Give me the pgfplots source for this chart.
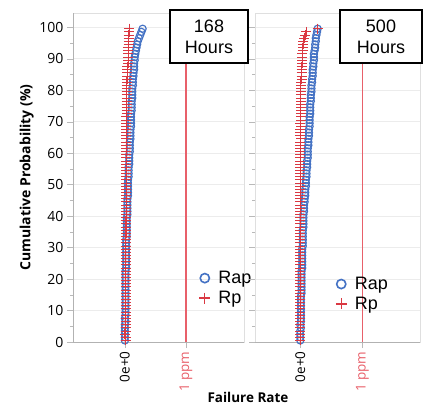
\documentclass[border=0pt]{standalone}
\usepackage{pgfplots}
\usepackage{pgfplotstable}
\pgfplotsset{compat=1.18}
\usepackage{fontspec}
\setmainfont{Open Sans}
\newfontfamily\arialfont{Liberation Sans}

\definecolor{rapblue}{RGB}{68,114,196}
\definecolor{rpred}{RGB}{218,56,66}
\definecolor{ppmred}{RGB}{232,96,106}

% p: cumulative probability (%); a1/r1: Rap/Rp after 168 h; a2/r2: Rap/Rp after 500 h (ppm)
\pgfplotstableread{
p    a1   r1   a2   r2
0.5  0.00 0.01 0.00 0.00
1.5  0.00 0.01 0.00 0.00
2.5  0.00 0.00 0.00 0.00
3.5  0.00 0.01 0.00 0.00
4.5  0.00 0.01 0.01 0.00
5.5  0.00 0.01 0.00 0.00
6.5  0.01 0.01 0.01 0.00
7.5  0.00 0.01 0.01 0.00
8.5  0.01 0.01 0.01 0.00
9.5  0.01 0.01 0.01 0.00
10.5 0.01 0.01 0.01 0.00
11.5 0.01 0.01 0.01 0.00
12.5 0.01 0.01 0.01 0.00
13.5 0.01 0.01 0.01 0.00
14.5 0.01 0.01 0.01 0.00
15.5 0.01 0.01 0.02 0.00
16.5 0.01 0.01 0.02 0.00
17.5 0.01 0.01 0.02 0.00
18.5 0.01 0.01 0.02 0.00
19.5 0.01 0.01 0.02 0.00
20.5 0.01 0.01 0.02 0.00
21.5 0.01 0.01 0.02 0.00
22.5 0.01 0.01 0.02 0.00
23.5 0.02 0.01 0.03 0.00
24.5 0.02 0.01 0.03 0.00
25.5 0.02 0.01 0.03 0.00
26.5 0.02 0.01 0.03 0.00
27.5 0.02 0.01 0.03 0.00
28.5 0.02 0.01 0.03 0.00
29.5 0.02 0.01 0.03 0.00
30.5 0.02 0.01 0.04 0.00
31.5 0.02 0.01 0.04 0.00
32.5 0.02 0.01 0.04 0.00
33.5 0.03 0.01 0.04 0.00
34.5 0.03 0.02 0.04 0.00
35.5 0.03 0.01 0.04 0.00
36.5 0.03 0.01 0.05 0.00
37.5 0.03 0.02 0.05 0.00
38.5 0.03 0.01 0.05 0.00
39.5 0.03 0.02 0.05 0.00
40.5 0.04 0.02 0.05 0.00
41.5 0.04 0.02 0.06 0.00
42.5 0.04 0.02 0.06 0.00
43.5 0.04 0.02 0.06 0.00
44.5 0.04 0.02 0.07 0.00
45.5 0.04 0.02 0.07 0.00
46.5 0.05 0.02 0.08 0.00
47.5 0.05 0.02 0.08 0.00
48.5 0.05 0.02 0.08 0.00
49.5 0.05 0.02 0.09 0.00
50.5 0.05 0.02 0.09 0.00
51.5 0.05 0.02 0.09 0.00
52.5 0.06 0.02 0.10 0.00
53.5 0.06 0.02 0.10 0.00
54.5 0.06 0.02 0.10 0.00
55.5 0.06 0.02 0.11 0.00
56.5 0.07 0.02 0.11 0.00
57.5 0.07 0.02 0.11 0.00
58.5 0.07 0.02 0.12 0.00
59.5 0.07 0.02 0.12 0.00
60.5 0.08 0.02 0.12 0.00
61.5 0.08 0.02 0.12 0.00
62.5 0.08 0.02 0.13 0.00
63.5 0.08 0.02 0.13 0.00
64.5 0.09 0.02 0.13 0.01
65.5 0.09 0.02 0.14 0.00
66.5 0.09 0.02 0.14 0.00
67.5 0.09 0.02 0.14 0.00
68.5 0.10 0.02 0.15 0.01
69.5 0.10 0.02 0.15 0.00
70.5 0.10 0.02 0.15 0.01
71.5 0.10 0.02 0.15 0.01
72.5 0.10 0.03 0.16 0.01
73.5 0.11 0.03 0.16 0.01
74.5 0.11 0.03 0.16 0.01
75.5 0.11 0.03 0.16 0.01
76.5 0.11 0.03 0.17 0.01
77.5 0.12 0.03 0.17 0.01
78.5 0.12 0.03 0.17 0.01
79.5 0.12 0.03 0.18 0.01
80.5 0.12 0.03 0.18 0.01
81.5 0.13 0.03 0.18 0.01
82.5 0.13 0.03 0.19 0.01
83.5 0.13 0.04 0.19 0.02
84.5 0.14 0.04 0.20 0.02
85.5 0.14 0.04 0.20 0.02
86.5 0.15 0.04 0.20 0.02
87.5 0.15 0.04 0.21 0.02
88.5 0.15 0.05 0.21 0.03
89.5 0.16 0.05 0.22 0.03
90.5 0.16 0.05 0.22 0.03
91.5 0.17 0.05 0.22 0.03
92.5 0.18 0.05 0.23 0.04
93.5 0.19 0.05 0.24 0.04
94.5 0.20 0.06 0.24 0.05
95.5 0.21 0.06 0.25 0.05
96.5 0.23 0.06 0.25 0.06
97.5 0.25 0.06 0.26 0.08
98.5 0.27 0.07 0.27 0.10
99.5 0.29 0.07 0.28 0.28
}\probdata

\pgfplotsset{
  panel/.style={
    scale only axis,
    height=329pt,
    ymin=0, ymax=104.5,
    ytick={0,10,...,100},
    minor y tick num=1,
    xtick={0},
    xticklabels={0e+0},
    extra x ticks={1},
    extra x tick labels={1 ppm},
    extra x tick style={xticklabel style={text=ppmred}},
    minor x tick num=4,
    xtick pos=bottom, ytick pos=left,
    tick align=outside,
    major tick length=6pt, minor tick length=3pt,
    x tick label style={rotate=90, anchor=east, font=\fontsize{13.5}{15}\selectfont},
    y tick label style={font=\fontsize{14}{16}\selectfont},
    /pgf/number format/assume math mode=true,
    axis line style={gray!25},
    tick style={gray!55},
    ymajorgrids, grid style={gray!15, line width=0.6pt},
    legend style={draw=none, fill=none, anchor=north west,
      font=\arialfont\fontsize{18}{20}\selectfont,
      row sep=2pt},
    legend cell align=left,
  },
  rapmark/.style={only marks, mark=o, mark size=3.6pt, draw=rapblue, color=rapblue, line width=1.15pt},
  rpmark/.style={only marks, mark=+, mark size=5pt, draw=rpred, color=rpred, line width=0.9pt},
}

\begin{document}
\begin{tikzpicture}
% 168 hours
\begin{axis}[panel,
  width=171pt,
  xmin=-0.85, xmax=1.95,
  ylabel={Cumulative Probability (\%)},
  ylabel style={at={(axis description cs:-0.27,0.5)}, anchor=center,
    font=\bfseries\fontsize{14}{16}\selectfont},
  legend style={at={(rel axis cs:0.72,0.228)}},
]
\draw[draw=ppmred, line width=1.2pt] (axis cs:1,0) -- (axis cs:1,104.5);
\addplot[rapmark, forget plot] table[x=a1, y=p] {\probdata};
\addplot[rpmark, forget plot] table[x=r1, y=p] {\probdata};
\draw[gray!60] (rel axis cs:0,0) -- (rel axis cs:1,0);
\draw[gray!60] (rel axis cs:0,0) -- (rel axis cs:0,1);
\addlegendimage{only marks, mark=o, mark size=4.6pt, draw=rapblue, color=rapblue, line width=1.6pt}
\addlegendentry{\hspace{6pt}Rap}
\addlegendimage{only marks, mark=+, mark size=5.5pt, draw=rpred, color=rpred, line width=1.2pt}
\addlegendentry{\hspace{6pt}Rp}
\end{axis}

% 500 hours
\begin{axis}[panel,
  at={(182pt,0pt)}, anchor=south west,
  width=165pt,
  xmin=-0.73, xmax=1.93,
  yticklabels={},
  legend style={at={(rel axis cs:0.47,0.21)}},
]
\draw[draw=ppmred, line width=1.2pt] (axis cs:1,0) -- (axis cs:1,104.5);
\addplot[rapmark, forget plot] table[x=a2, y=p] {\probdata};
\addplot[rpmark, forget plot] table[x=r2, y=p] {\probdata};
\draw[gray!60] (rel axis cs:0,0) -- (rel axis cs:1,0);
\addlegendimage{only marks, mark=o, mark size=4.6pt, draw=rapblue, color=rapblue, line width=1.6pt}
\addlegendentry{\hspace{6pt}Rap}
\addlegendimage{only marks, mark=+, mark size=5.5pt, draw=rpred, color=rpred, line width=1.2pt}
\addlegendentry{\hspace{6pt}Rp}
\end{axis}

% time labels
\node[draw=black, line width=1.8pt, fill=white, align=center,
  font=\arialfont\fontsize{18}{21}\selectfont,
  minimum width=78pt, minimum height=53pt, inner sep=0pt]
  at (136pt,305.5pt) {168\\Hours};
\node[draw=black, line width=1.8pt, fill=white, align=center,
  font=\arialfont\fontsize{18}{21}\selectfont,
  minimum width=82pt, minimum height=53pt, inner sep=0pt]
  at (308pt,305.5pt) {500\\Hours};

\node[font=\bfseries\fontsize{13.5}{15}\selectfont] at (175pt,-55pt) {Failure Rate};

\pgfresetboundingbox
\path (-73pt,-65pt) rectangle (355pt,342pt);
\end{tikzpicture}
\end{document}
